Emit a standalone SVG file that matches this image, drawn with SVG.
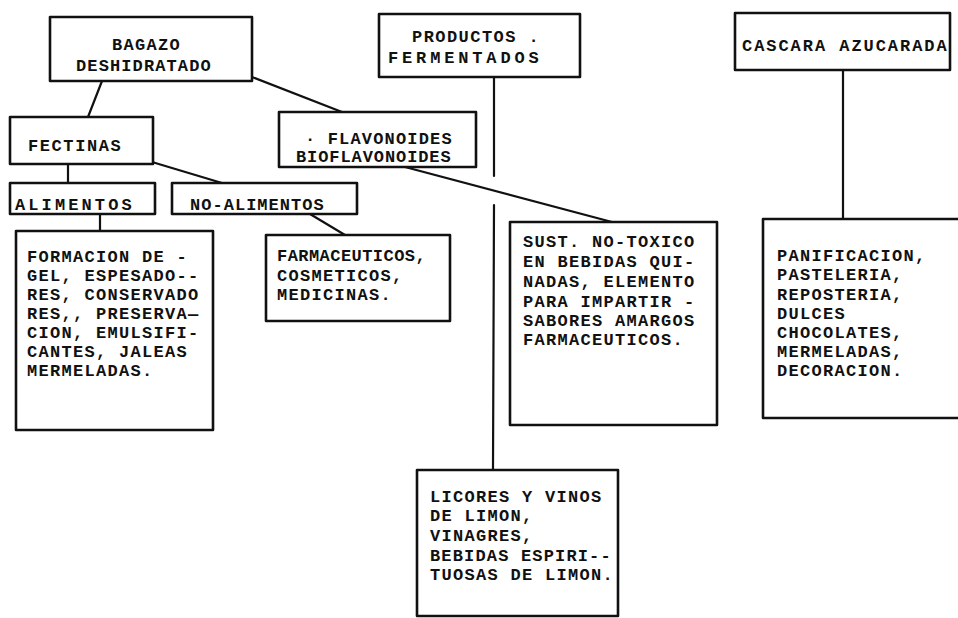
<svg xmlns="http://www.w3.org/2000/svg" width="958" height="618" viewBox="0 0 958 618">
<style>
.bx{fill:#fff;stroke:#111;stroke-width:2.6;stroke-linejoin:round}
.cn{fill:none;stroke:#111;stroke-width:2.2;stroke-linecap:round}
text{font-family:"Liberation Mono","DejaVu Sans Mono",monospace;font-size:17px;font-weight:bold;fill:#111;letter-spacing:1.3px}
</style>
<rect width="958" height="618" fill="#fff"/>
<g id="connectors">
<line class="cn" x1="102" y1="81" x2="88" y2="117"/>
<line class="cn" x1="252" y1="77" x2="342" y2="112"/>
<line class="cn" x1="68" y1="164" x2="68" y2="183"/>
<line class="cn" x1="152" y1="162" x2="222" y2="183"/>
<line class="cn" x1="100" y1="214" x2="100" y2="231"/>
<line class="cn" x1="310" y1="214" x2="345" y2="235"/>
<line class="cn" x1="494" y1="77" x2="494" y2="176"/>
<line class="cn" x1="494" y1="205" x2="493" y2="470"/>
<line class="cn" x1="405" y1="167" x2="612" y2="222"/>
<line class="cn" x1="843" y1="70" x2="843" y2="219"/>
</g>
<g id="bagazo">
<rect class="bx" x="50" y="17" width="202" height="64"/>
<text x="112" y="50">BAGAZO</text>
<text x="76" y="71" textLength="136">DESHIDRATADO</text>
</g>
<g id="productos">
<rect class="bx" x="379" y="14" width="201" height="63"/>
<text x="412" y="42" textLength="128">PRODUCTOS .</text>
<text x="388" y="63" textLength="152">FERMENTADOS</text>
</g>
<g id="cascara">
<rect class="bx" x="735" y="13" width="215" height="57"/>
<text x="742" y="51" textLength="206">CASCARA AZUCARADA</text>
</g>
<g id="fectinas">
<rect class="bx" x="10" y="117" width="143" height="47"/>
<text x="28" y="151" textLength="94">FECTINAS</text>
</g>
<g id="flavonoides">
<rect class="bx" x="279" y="112" width="197" height="55"/>
<text x="305" y="144" textLength="148">· FLAVONOIDES</text>
<text x="296" y="162" textLength="156">BIOFLAVONOIDES</text>
</g>
<g id="alimentos">
<rect class="bx" x="10" y="183" width="145" height="31"/>
<text x="15" y="210" textLength="118">ALIMENTOS</text>
</g>
<g id="no-alimentos">
<rect class="bx" x="172" y="183" width="185" height="31"/>
<text x="190" y="210" textLength="135">NO-ALIMENTOS</text>
</g>
<g id="usos-alimentos">
<rect class="bx" x="16" y="231" width="197" height="199"/>
<text x="27" y="262">FORMACION DE  -</text>
<text x="27" y="281">GEL, ESPESADO--</text>
<text x="27" y="300">RES, CONSERVADO</text>
<text x="27" y="319">RES,, PRESERVA—</text>
<text x="27" y="338">CION, EMULSIFI-</text>
<text x="27" y="357">CANTES, JALEAS</text>
<text x="27" y="376">MERMELADAS.</text>
</g>
<g id="usos-no-alimentos">
<rect class="bx" x="266" y="235" width="184" height="86"/>
<text x="277" y="261" textLength="150">FARMACEUTICOS,</text>
<text x="277" y="281">COSMETICOS,</text>
<text x="277" y="300">MEDICINAS.</text>
</g>
<g id="usos-flavonoides">
<rect class="bx" x="510" y="222" width="207" height="203"/>
<text x="523" y="247">SUST. NO-TOXICO</text>
<text x="523" y="267">EN BEBIDAS QUI-</text>
<text x="523" y="287">NADAS, ELEMENTO</text>
<text x="523" y="307">PARA IMPARTIR -</text>
<text x="523" y="326">SABORES AMARGOS</text>
<text x="523" y="345">FARMACEUTICOS.</text>
</g>
<g id="usos-cascara">
<rect class="bx" x="763" y="219" width="200" height="199"/>
<text x="777" y="261">PANIFICACION,</text>
<text x="777" y="280">PASTELERIA,</text>
<text x="777" y="300">REPOSTERIA,</text>
<text x="777" y="319">DULCES</text>
<text x="777" y="338">CHOCOLATES,</text>
<text x="777" y="357">MERMELADAS,</text>
<text x="777" y="376">DECORACION.</text>
</g>
<g id="usos-productos">
<rect class="bx" x="417" y="470" width="201" height="146"/>
<text x="430" y="502">LICORES Y VINOS</text>
<text x="430" y="521">DE LIMON,</text>
<text x="430" y="541">VINAGRES,</text>
<text x="430" y="561" textLength="182">BEBIDAS ESPIRI--</text>
<text x="430" y="580">TUOSAS DE LIMON.</text>
</g>
</svg>
